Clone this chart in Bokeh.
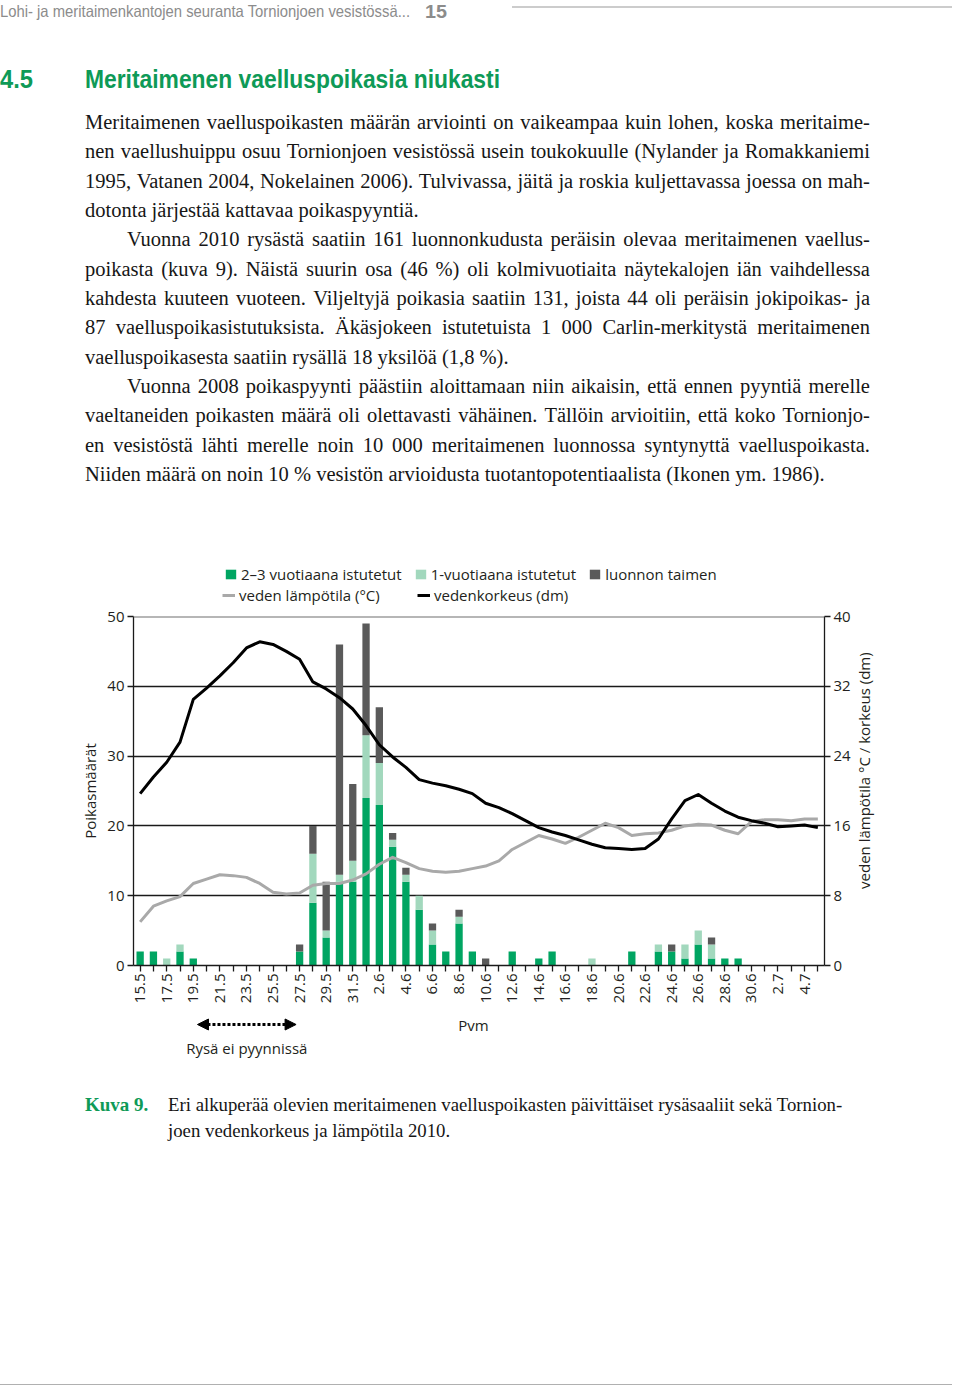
import math
from bokeh.plotting import figure
from bokeh.models import (ColumnDataSource, Range1d, LinearAxis, FixedTicker, Legend, LegendItem,
                          Span, Arrow, NormalHead, Div)
from bokeh.layouts import column, row
from bokeh.core.properties import value
from bokeh.embed import file_html
from bokeh.resources import INLINE

# ---------------- data ----------------
days = ["15.5", "16.5", "17.5", "18.5", "19.5", "20.5", "21.5", "22.5", "23.5", "24.5", "25.5",
        "26.5", "27.5", "28.5", "29.5", "30.5", "31.5",
        "1.6", "2.6", "3.6", "4.6", "5.6", "6.6", "7.6", "8.6", "9.6", "10.6", "11.6", "12.6",
        "13.6", "14.6", "15.6", "16.6", "17.6", "18.6", "19.6", "20.6", "21.6", "22.6", "23.6",
        "24.6", "25.6", "26.6", "27.6", "28.6", "29.6", "30.6",
        "1.7", "2.7", "3.7", "4.7", "5.7"]
planted_2_3 = [2, 2, 0, 2, 1, 0, 0, 0, 0, 0, 0, 0, 2, 9, 4, 12, 12, 24, 23, 17, 12, 8, 3, 2, 6,
               2, 0, 0, 2, 0, 1, 2, 0, 0, 0, 0, 0, 2, 0, 2, 2, 1, 3, 1, 1, 1, 0, 0, 0, 0, 0, 0]
planted_1 = [0, 0, 1, 1, 0, 0, 0, 0, 0, 0, 0, 0, 0, 7, 1, 1, 3, 9, 6, 1, 1, 2, 2, 0, 1,
             0, 0, 0, 0, 0, 0, 0, 0, 0, 1, 0, 0, 0, 0, 1, 0, 2, 2, 2, 0, 0, 0, 0, 0, 0, 0, 0]
wild = [0, 0, 0, 0, 0, 0, 0, 0, 0, 0, 0, 0, 1, 4, 7, 33, 11, 16, 8, 1, 1, 0, 1, 0, 1,
        0, 1, 0, 0, 0, 0, 0, 0, 0, 0, 0, 0, 0, 0, 0, 1, 0, 0, 1, 0, 0, 0, 0, 0, 0, 0, 0]
temperature = [5.0, 6.8, 7.4, 7.9, 9.4, 9.9, 10.4, 10.3, 10.1, 9.4, 8.4, 8.2, 8.3, 9.2, 9.4, 9.4,
               9.8, 10.5, 11.6, 12.4, 11.8, 11.1, 10.8, 10.7, 10.8, 11.1, 11.4, 12.0, 13.3, 14.1,
               14.9, 14.5, 14.0, 14.7, 15.5, 16.3, 15.8, 14.9, 15.1, 15.2, 15.5, 16.0, 16.2, 16.1,
               15.5, 15.1, 16.5, 16.7, 16.7, 16.6, 16.8, 16.8]
water_level = [19.7, 21.6, 23.3, 25.6, 30.5, 31.8, 33.2, 34.7, 36.4, 37.1, 36.8, 36.0, 35.1, 32.5,
               31.7, 30.7, 29.4, 27.5, 25.3, 23.9, 22.7, 21.3, 20.9, 20.6, 20.2, 19.7, 18.6, 18.1,
               17.4, 16.6, 15.8, 15.3, 14.9, 14.4, 13.9, 13.5, 13.4, 13.3, 13.4, 14.5, 16.8, 18.9,
               19.6, 18.6, 17.7, 17.0, 16.6, 16.3, 15.9, 16.0, 16.1, 15.8]
left_ticks = [0, 10, 20, 30, 40, 50]
right_ticks = [0, 8, 16, 24, 32, 40]
no_trap_period = ("20.5", "26.5")

series_names = ["2–3 vuotiaana istutetut", "1-vuotiaana istutetut", "luonnon taimen"]
line_names = ["veden lämpötila (°C)", "vedenkorkeus (dm)"]
left_title = "Poikasmäärät"
right_title = "veden lämpötila °C / korkeus (dm)"

GREEN = "#00a562"
LIGHT = "#a2d8bd"
DARK = "#5a5a5a"
GREYLINE = "#a9a9a9"
TXT = "#231f20"
FONT = "Open Sans"
BAR_COLORS = [GREEN, LIGHT, DARK]
LINE_COLORS = [GREYLINE, "black"]

idx = list(range(len(days)))
src = ColumnDataSource(dict(x=idx, g=planted_2_3, l=planted_1, w=wild,
                            t=temperature, h=water_level))

BL, BR = 133, 126          # left / right borders shared by the stacked figures

# ---------------- legend strip (above the chart) ----------------
LEG_H = 65
p_leg = figure(width=952, height=LEG_H, x_range=Range1d(0, 1), y_range=Range1d(0, 1),
               output_backend="svg", toolbar_location=None, x_axis_location=None,
               y_axis_location=None, min_border_left=BL, min_border_right=BR,
               min_border_top=0, min_border_bottom=0, outline_line_color=None)
p_leg.grid.visible = False
# zero-size proxies that only carry the legend key styles
key_bars = [p_leg.vbar(x=[0], top=[0], width=0, fill_color=c, line_color=None) for c in BAR_COLORS]
key_lines = [p_leg.line(x=[0], y=[0], line_color=c, line_width=3) for c in LINE_COLORS]


def make_legend(items, loc, label_width=20):
    return Legend(items=items, location=loc, orientation="horizontal", spacing=12, padding=0,
                  margin=0, border_line_color=None, background_fill_alpha=0,
                  label_text_font=FONT, label_text_font_size="15px", label_text_color=TXT,
                  glyph_width=13, glyph_height=12, label_standoff=4, label_width=label_width)


p_leg.add_layout(make_legend([LegendItem(label=n, renderers=[r]) for n, r in zip(series_names, key_bars)],
                             (91, 21)))
p_leg.add_layout(make_legend([LegendItem(label=n, renderers=[r]) for n, r in zip(line_names, key_lines)],
                             (89, 0), label_width=166))

# ---------------- main chart ----------------
FIG_H = 403
RB = 27
p = figure(width=BL + 693 + RB, height=FIG_H, x_range=Range1d(-0.5, len(days) - 0.5),
           y_range=Range1d(0, 50), output_backend="svg", toolbar_location=None,
           min_border_left=BL, min_border_right=RB, min_border_top=11, min_border_bottom=43,
           outline_line_color=None, background_fill_color="white", border_fill_color="white")
p.extra_y_ranges = {"right": Range1d(0, 40)}

bars = p.vbar_stack(["g", "l", "w"], x="x", width=0.55, color=BAR_COLORS,
                    line_color=None, source=src)
p.line("x", "t", source=src, y_range_name="right", line_color=LINE_COLORS[0], line_width=3,
       line_join="round")
p.line("x", "h", source=src, y_range_name="right", line_color=LINE_COLORS[1], line_width=3,
       line_join="round")

p.xgrid.visible = False
p.ygrid.ticker = FixedTicker(ticks=[10, 20, 30, 40])
p.ygrid.grid_line_color = "#1a1a1a"
p.ygrid.grid_line_width = 1.3
p.add_layout(Span(location=50, dimension="width", line_color="#6e6e6e", line_width=2))

p.xaxis.ticker = FixedTicker(ticks=idx)
p.xaxis.major_label_overrides = {i: (d if i % 2 == 0 else "") for i, d in enumerate(days)}
p.xaxis.major_label_orientation = math.pi / 2

p.yaxis.ticker = FixedTicker(ticks=left_ticks)
p.yaxis.axis_label = left_title

rax = LinearAxis(y_range_name="right", ticker=FixedTicker(ticks=right_ticks))
p.add_layout(rax, "right")

for ax in p.axis:
    ax.axis_line_color = "#1a1a1a"
    ax.axis_line_width = 1.3
    ax.major_tick_line_color = "#1a1a1a"
    ax.major_tick_line_width = 1.3
    ax.major_tick_out = 6
    ax.major_tick_in = 0
    ax.minor_tick_line_color = None
    ax.major_label_text_font = FONT
    ax.major_label_text_font_size = "15px"
    ax.major_label_text_color = TXT
    ax.major_label_standoff = 3
    ax.axis_label_text_font = FONT
    ax.axis_label_text_font_size = "15px"
    ax.axis_label_text_font_style = "normal"
    ax.axis_label_text_color = TXT
    ax.axis_label_standoff = 4
p.xaxis.major_label_standoff = 2

# right-hand axis title, drawn in a narrow strip next to the chart
PR_W = 952 - (BL + 693 + RB)
p_r = figure(width=PR_W, height=FIG_H, x_range=Range1d(0, PR_W), y_range=Range1d(0, FIG_H),
             output_backend="svg", toolbar_location=None, x_axis_location=None,
             y_axis_location=None, min_border=0, outline_line_color=None)
p_r.grid.visible = False
p_r.text(x=[10.8], y=[225], text=[right_title], angle=math.pi / 2,
         text_font=value(FONT), text_font_size="15px", text_color=TXT,
         text_align="center", text_baseline="middle")

# ---------------- annotation strip under the x axis ----------------
p2 = figure(width=952, height=54, x_range=p.x_range, y_range=Range1d(0, 54),
            output_backend="svg", toolbar_location=None, x_axis_location=None,
            y_axis_location=None, min_border_left=BL, min_border_right=BR,
            min_border_top=0, min_border_bottom=0, outline_line_color=None)
p2.grid.visible = False
a0 = days.index(no_trap_period[0]) - 0.7
a1 = days.index(no_trap_period[1]) + 0.7
p2.add_layout(Arrow(start=NormalHead(size=11, fill_color="black", line_color="black"),
                    end=NormalHead(size=11, fill_color="black", line_color="black"),
                    x_start=a0, y_start=38, x_end=a1, y_end=38,
                    line_width=3, line_dash="3 2", line_color="black"))
p2.text(x=[(a0 + a1) / 2, 25.0], y=[15, 38], text=["Rysä ei pyynnissä", "Pvm"],
        text_font=value(FONT), text_font_size="15px", text_color=TXT,
        text_align="center", text_baseline="middle")

# ---------------- page text ----------------
BODY_FS = 20.5
SERIF = ("font-family:'Liberation Serif','Times New Roman',serif;"
         f"font-size:{BODY_FS}px;line-height:{BODY_FS}px;color:#161616;")
CAP_FS = 18.8
CAPSERIF = ("font-family:'Liberation Serif','Times New Roman',serif;"
            f"font-size:{CAP_FS}px;line-height:{CAP_FS}px;color:#161616;")
GREENTXT = "#0e9a57"


def line_html(left, top, width, text, justify=True, style=SERIF):
    if justify:
        inner = "".join(f"<span>{w}</span>" for w in text.split(" "))
        return (f'<div style="position:absolute;left:{left}px;top:{top:.1f}px;width:{width}px;'
                f'display:flex;justify-content:space-between;column-gap:3px;white-space:nowrap;'
                f'{style}">{inner}</div>')
    return (f'<div style="position:absolute;left:{left}px;top:{top:.1f}px;white-space:nowrap;'
            f'{style}">{text}</div>')


body_lines = [
    ("Meritaimenen vaelluspoikasten määrän arviointi on vaikeampaa kuin lohen, koska meritaime-", 0, True),
    ("nen vaellushuippu osuu Tornionjoen vesistössä usein toukokuulle (Nylander ja Romakkaniemi", 0, True),
    ("1995, Vatanen 2004, Nokelainen 2006). Tulvivassa, jäitä ja roskia kuljettavassa joessa on mah-", 0, True),
    ("dotonta järjestää kattavaa poikaspyyntiä.", 0, False),
    ("Vuonna 2010 rysästä saatiin 161 luonnonkudusta peräisin olevaa meritaimenen vaellus-", 1, True),
    ("poikasta (kuva 9). Näistä suurin osa (46 %) oli kolmivuotiaita näytekalojen iän vaihdellessa", 0, True),
    ("kahdesta kuuteen vuoteen. Viljeltyjä poikasia saatiin 131, joista 44 oli peräisin jokipoikas- ja", 0, True),
    ("87 vaelluspoikasistutuksista. Äkäsjokeen istutetuista 1 000 Carlin-merkitystä meritaimenen", 0, True),
    ("vaelluspoikasesta saatiin rysällä 18 yksilöä (1,8 %).", 0, False),
    ("Vuonna 2008 poikaspyynti päästiin aloittamaan niin aikaisin, että ennen pyyntiä merelle", 1, True),
    ("vaeltaneiden poikasten määrä oli olettavasti vähäinen. Tällöin arvioitiin, että koko Tornionjo-", 0, True),
    ("en vesistöstä lähti merelle noin 10 000 meritaimenen luonnossa syntynyttä vaelluspoikasta.", 0, True),
    ("Niiden määrä on noin 10 % vesistön arvioidusta tuotantopotentiaalista (Ikonen ym. 1986).", 0, False),
]

parts = []
parts.append(
    '<svg width="952" height="100" style="position:absolute;left:0px;top:0px;overflow:visible">'
    '<text x="0" y="14.4" transform="scale(1,1.15)" font-family="Roboto" font-size="14.5" fill="#8c8c8c" '
    'textLength="410" lengthAdjust="spacingAndGlyphs">'
    'Lohi- ja meritaimenkantojen seuranta Tornionjoen vesistössä...</text>'
    '<text x="425" y="18" font-family="Roboto" font-size="19" font-weight="bold" fill="#8c8c8c" '
    'textLength="22" lengthAdjust="spacingAndGlyphs">15</text>'
    '<line x1="512" y1="7" x2="952" y2="7" stroke="#9a9a9a" stroke-width="1.2"/>'
    f'<text y="88" font-family="Roboto" font-weight="bold" font-size="25" fill="{GREENTXT}">'
    '<tspan x="0" textLength="33" lengthAdjust="spacingAndGlyphs">4.5</tspan>'
    '<tspan x="85" textLength="415" lengthAdjust="spacingAndGlyphs">Meritaimenen vaelluspoikasia niukasti</tspan>'
    '</text></svg>')
for i, (txt, indent, just) in enumerate(body_lines):
    baseline = 129 + 29.35 * i
    top = baseline - 0.8375 * BODY_FS
    left = 85 + (42 if indent else 0)
    width = 785 - (42 if indent else 0)
    parts.append(line_html(left, top, width, txt, just))

div_top = Div(text='<div style="position:relative;width:952px;height:540px;">' + "".join(parts) + "</div>",
              width=952, height=540, margin=0, styles={"overflow": "visible"})

CAP_Y0 = 1062
cap = []
cap.append(line_html(85, 1112 - 0.8375 * CAP_FS - CAP_Y0, 80, "Kuva 9.", False,
                     CAPSERIF + f"font-weight:bold;color:{GREENTXT};font-size:19px;"))
cap.append(line_html(168, 1112 - 0.8375 * CAP_FS - CAP_Y0, 679,
                     "Eri alkuperää olevien meritaimenen vaelluspoikasten päivittäiset rysäsaaliit sekä Tornion-",
                     False, CAPSERIF))
cap.append(line_html(168, 1138 - 0.8375 * CAP_FS - CAP_Y0, 679, "joen vedenkorkeus ja lämpötila 2010.",
                     False, CAPSERIF))
cap.append('<div style="position:absolute;left:0px;top:322px;width:952px;height:0;border-top:1px solid #b0b0b0;"></div>')
div_cap = Div(text='<div style="position:relative;width:952px;height:324px;">' + "".join(cap) + "</div>",
              width=952, height=324, margin=0, styles={"overflow": "visible"})

layout = column(div_top, p_leg, row(p, p_r, spacing=0), p2, div_cap, spacing=0)
open("out.html", "w").write(file_html(layout, INLINE))
